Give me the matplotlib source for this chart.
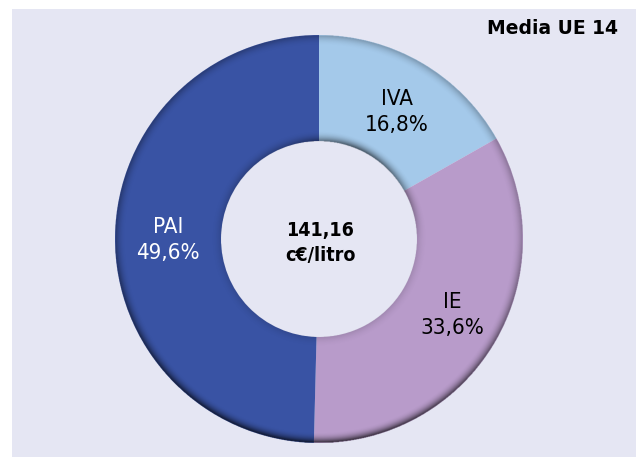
import numpy as np
import matplotlib.pyplot as plt
from matplotlib.patches import Rectangle

labels = ["IVA", "IE", "PAI"]
shares = [16.8, 33.6, 49.6]
colors = ["#A4C9EA", "#B89BCA", "#3953A4"]
label_colors = ["black", "black", "white"]
total_text = "141,16\nc€/litro"
title = "Media UE 14"

W, H = 636, 457
fig = plt.figure(figsize=(W / 100, H / 100), dpi=100)
ax = fig.add_axes([0, 0, 1, 1])

cx, cy = 319, H - 239
R = 204
ring = 106
r_in = R - ring

# background panel
ax.add_patch(Rectangle((12, 0), W - 12, H - 9, facecolor="#E5E6F3",
                       edgecolor="none", zorder=0))

wedges, _ = ax.pie(shares, colors=colors, startangle=90, counterclock=False,
                   radius=R, center=(cx, cy),
                   wedgeprops=dict(width=ring, edgecolor="none", linewidth=0))
for w in wedges:
    w.set_zorder(2)

# bevel shading on the ring edges, as a smooth black overlay
g = np.linspace(-R, R, 2 * R * 2)
xx, yy = np.meshgrid(g, g)
rr = np.hypot(xx, yy)
th = np.arctan2(yy, xx)
edge = 11.0
d_out = np.clip((rr - (R - edge)) / edge, 0, 1)
d_in = np.clip(((r_in + edge) - rr) / edge, 0, 1)
k_out = 0.30 + 0.60 * np.clip(-np.sin(th), 0, 1) + 0.10 * np.clip(-np.cos(th), 0, 1)
k_in = 0.15 + 0.65 * np.clip(np.sin(th), 0, 1) * np.clip(np.cos(th) + 0.6, 0.3, 1)
alpha = np.maximum(k_out * d_out ** 2.2, np.minimum(k_in, 0.8) * d_in ** 2.2) * 0.85
alpha[(rr > R) | (rr < r_in)] = 0
shade = np.zeros(xx.shape + (4,))
shade[..., 3] = alpha
ax.imshow(shade, extent=(cx - R, cx + R, cy - R, cy + R), origin="lower",
          interpolation="bilinear", zorder=3)

cond = dict(family=["Liberation Sans Narrow", "DejaVu Sans"], stretch="condensed")
label_pos = [(397, 112), (452, 315), (168, 240)]
for lab, s, (x, y), c in zip(labels, shares, label_pos, label_colors):
    ax.text(x, H - y, f"{lab}\n{s:.1f}%".replace(".", ","), color=c,
            fontsize=16, ha="center", va="center", linespacing=1.4,
            zorder=5, **cond)

ax.text(cx + 1, H - 243, total_text, fontsize=14, fontweight="bold",
        ha="center", va="center", linespacing=1.35, zorder=5, **cond)
ax.text(618, H - 29, title, fontsize=13.5, fontweight="bold",
        ha="right", va="center", zorder=5)

ax.set_xlim(0, W)
ax.set_ylim(0, H)
ax.set_aspect("auto")
ax.axis("off")
fig.savefig("out.png", dpi=100, facecolor="white")
